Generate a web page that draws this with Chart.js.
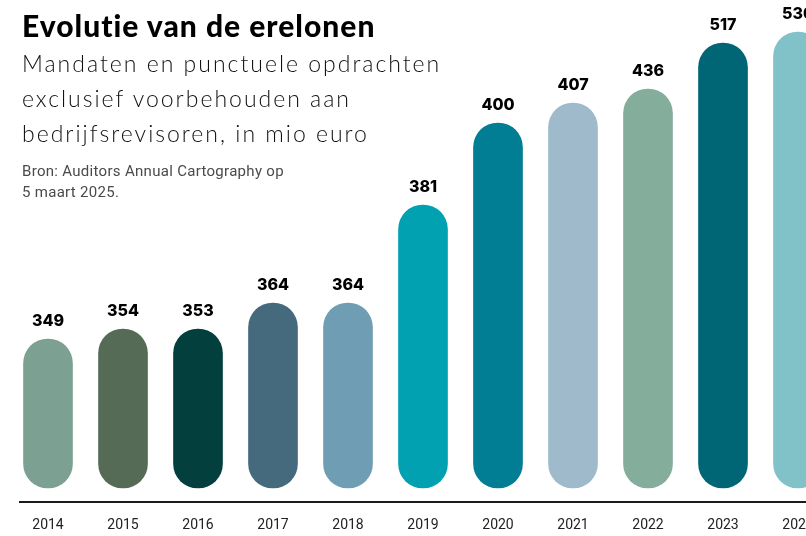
<!DOCTYPE html>
<html>
<head>
<meta charset="utf-8">
<script src="https://cdn.jsdelivr.net/npm/chart.js@4.4.1/dist/chart.umd.min.js"></script>
<style>
  html, body { margin: 0; padding: 0; background: #fff; overflow: hidden; }
  #wrap { position: relative; width: 806px; height: 536px; overflow: hidden; }
  canvas { position: absolute; left: 0; top: 0; }
  .title { position: absolute; left: 22px; top: 7px; font: 900 30px Lato, sans-serif; color: #000; letter-spacing: 1px; }
  .sub { position: absolute; left: 22px; top: 46px; font: 300 23px Lato, sans-serif; color: #111; line-height: 35px; letter-spacing: 2px; }
  .src { position: absolute; left: 22px; top: 161px; font: 400 15px Roboto, sans-serif; color: #4a4a4a; line-height: 21px; letter-spacing: 0.3px; }
</style>
</head>
<body>
<div id="wrap">
  <canvas id="chart" width="850" height="536"></canvas>
  <div class="title">Evolutie van de erelonen</div>
  <div class="sub">Mandaten en punctuele opdrachten<br>exclusief voorbehouden aan<br>bedrijfsrevisoren, in mio euro</div>
  <div class="src">Bron: Auditors Annual Cartography op<br>5 maart 2025.</div>
</div>
<script>
const years = ['2014', '2015', '2016', '2017', '2018', '2019', '2020', '2021', '2022', '2023', '2024'];
// printed values (mio euro)
const values = [349, 354, 353, 364, 364, 381, 400, 407, 436, 517, 530];
// bar lengths as drawn in the original (not proportional to the values)
const barLengths = [149, 159, 159, 185, 185, 283, 365, 385, 399, 445, 456];
const barColors = ['#7ca193', '#556b55', '#023f3d', '#456a7e', '#6f9db3', '#01a1b2',
                   '#017e93', '#9ebacb', '#84ad9b', '#006675', '#80c2c8'];

const labelPlugin = {
    id: 'valueLabels',
    afterDatasetsDraw(chart) {
        const ctx = chart.ctx;
        const meta = chart.getDatasetMeta(0);
        const bottom = chart.chartArea.bottom;
        ctx.save();
        ctx.textAlign = 'center';
        ctx.textBaseline = 'middle';
        meta.data.forEach((bar, i) => {
            ctx.fillStyle = '#000';
            ctx.font = '800 16px Inter, sans-serif';
            ctx.fillText(String(values[i]), bar.x, bar.y - 18);
            ctx.fillStyle = '#222';
            ctx.font = '400 14px Roboto, sans-serif';
            ctx.fillText(years[i], bar.x, bottom + 23);
        });
        // axis line
        ctx.strokeStyle = '#1a1a1a';
        ctx.lineWidth = 2;
        ctx.beginPath();
        ctx.moveTo(19, bottom);
        ctx.lineTo(chart.width, bottom);
        ctx.stroke();
        ctx.restore();
    }
};

new Chart(document.getElementById('chart'), {
    type: 'bar',
    data: {
        labels: years,
        datasets: [{
            data: barLengths,
            backgroundColor: barColors,
            borderRadius: 25,
            borderSkipped: false,
            barThickness: 49
        }]
    },
    options: {
        responsive: false,
        animation: false,
        devicePixelRatio: 1,
        layout: { padding: { left: 10.5, right: 14.5, top: 18, bottom: 34 } },
        plugins: { legend: { display: false }, tooltip: { enabled: false } },
        scales: {
            x: { display: false },
            y: { display: false, min: -14, max: 470 }
        }
    },
    plugins: [labelPlugin]
});
</script>
</body>
</html>
